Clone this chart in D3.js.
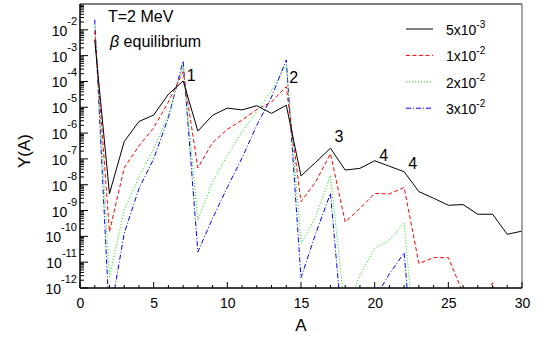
<!DOCTYPE html>
<html><head><meta charset="utf-8">
<script src="https://cdn.jsdelivr.net/npm/d3@7"></script>
<style>body{margin:0;background:#fff}svg{display:block}text{font-family:"Liberation Sans",Arial,sans-serif}</style>
</head><body><svg id="c" width="546" height="339"></svg>
<script>
const massNumbers = d3.range(1, 31);
const yEta5e3 = [4.0e-3,4.5e-9,4.7e-7,2.8e-6,5.0e-6,3.2e-5,1.05e-4,1.2e-6,4.9e-6,9.3e-6,7.9e-6,1.15e-5,5.8e-6,1.2e-5,2.2e-8,7.4e-8,2.6e-7,3.7e-8,4.3e-8,8.5e-8,5.2e-8,3.2e-8,5.4e-9,3.0e-9,1.6e-9,1.7e-9,7.2e-10,7.2e-10,1.2e-10,1.6e-10];
const yEta1e2 = [8.9e-3,1.5e-10,4.5e-8,3.2e-7,1.6e-6,1.6e-5,2.4e-4,4.5e-8,4.3e-7,1.4e-6,3.2e-6,8.3e-6,1.6e-5,6.3e-5,2.2e-9,1.3e-8,1.6e-7,3.6e-10,1.2e-9,4.6e-9,4.4e-9,7.8e-9,8.9e-12,1.5e-11,1.5e-11,6.3e-13,1e-13,1.6e-12,3.2e-14,null];
const yEta2e2 = [1.6e-2,2.7e-12,1e-9,2.0e-8,2.5e-7,5.0e-6,4.4e-4,4.3e-10,1.3e-8,1.4e-7,1.1e-6,7.1e-6,4.5e-5,4.4e-4,5.2e-11,5.8e-10,2.3e-8,1e-13,3.2e-12,3.4e-11,7.1e-11,3.3e-10,1.6e-16,null,null,null,null,null,null,null];
const yEta3e2 = [2.5e-2,6.3e-14,1.3e-10,7.1e-9,1e-7,4.0e-6,6.2e-4,2.5e-11,5.0e-10,7.9e-9,1.1e-7,2.0e-6,2.5e-5,6.8e-4,2.5e-12,1.3e-10,4.6e-9,1.6e-15,3.2e-14,4.0e-13,3.5e-12,2.3e-11,4e-18,null,null,null,null,null,null,null];
const seriesNames = [["5x10","-3"],["1x10","-2"],["2x10","-2"],["3x10","-2"]];
const xTicks = [0,5,10,15,20,25,30];
const yTickExps = [-2,-3,-4,-5,-6,-7,-8,-9,-10,-11,-12];
const peakLabels = [{a:7,t:"1"},{a:14,t:"2"},{a:17,t:"3"},{a:20,t:"4"},{a:22,t:"4"}];

const svg = d3.select("#c");
const L=80,R=522,T=4,B=288;
const x = d3.scaleLinear().domain([0,30]).range([L,R]);
const y = d3.scaleLog().domain([1e-12,1e-1]).range([B,T]);

svg.append("clipPath").attr("id","clip").append("rect").attr("x",L).attr("y",T).attr("width",R-L).attr("height",B-T);

const styles = [
 {c:"#000000",d:null},
 {c:"#ff0000",d:"4,2.5"},
 {c:"#00e000",d:"1,2"},
 {c:"#0000ff",d:"5,2,1,2"}
];
const data = [yEta5e3,yEta1e2,yEta2e2,yEta3e2];
const line = d3.line().defined(d=>d[1]!=null).x(d=>x(d[0])).y(d=>y(d[1]));
const g = svg.append("g").attr("clip-path","url(#clip)");
data.slice().reverse().forEach((arr,ri)=>{
  const i = data.length-1-ri;
  g.append("path").datum(massNumbers.map((a,k)=>[a,arr[k]]))
   .attr("d",line).attr("fill","none").attr("stroke",styles[i].c)
   .attr("stroke-width",1).attr("stroke-dasharray",styles[i].d);
});

// frame
svg.append("line").attr("x1",L).attr("x2",R).attr("y1",T).attr("y2",T).attr("stroke","#555").attr("stroke-width",1.5);
svg.append("line").attr("x1",R).attr("x2",R).attr("y1",T).attr("y2",B).attr("stroke","#888").attr("stroke-width",1.5);

// x axis
const xAxis = d3.axisBottom(x).tickValues(xTicks).tickSize(0).tickPadding(0).tickFormat(d3.format("d"));
const xa = svg.append("g").attr("transform",`translate(0,${B})`).call(xAxis);
xa.select(".domain").remove();
xa.selectAll("text").attr("y",20).attr("dy",null).attr("font-size",14).attr("fill","#000").attr("font-family","Liberation Sans, Arial, sans-serif");
svg.append("g").selectAll("line").data(d3.range(0,31)).join("line")
  .attr("x1",d=>x(d)).attr("x2",d=>x(d)).attr("y1",B).attr("y2",d=>d%5===0?B-6:B-3)
  .attr("stroke","#000").attr("stroke-width",1);
svg.append("line").attr("x1",L).attr("x2",R).attr("y1",B).attr("y2",B).attr("stroke","#000").attr("stroke-width",1.5);

// y axis ticks
const yt = svg.append("g");
const minor=[];
for(let e=-12;e<-1;e++){for(let k=2;k<=9;k++)minor.push(k*Math.pow(10,e));}
yt.selectAll("line.mi").data(minor).join("line").attr("class","mi")
  .attr("x1",L).attr("x2",L+4).attr("y1",d=>y(d)).attr("y2",d=>y(d)).attr("stroke","#000");
yt.selectAll("line.ma").data(yTickExps).join("line").attr("class","ma")
  .attr("x1",L).attr("x2",L+8).attr("y1",d=>y(Math.pow(10,d))).attr("y2",d=>y(Math.pow(10,d))).attr("stroke","#000");
svg.append("line").attr("x1",L).attr("x2",L).attr("y1",T).attr("y2",B).attr("stroke","#000").attr("stroke-width",1.5);
const yl = yt.selectAll("text.yl").data(yTickExps).join("text").attr("class","yl")
  .attr("x",77).attr("y",d=>y(Math.pow(10,d))+6).attr("text-anchor","end").attr("font-size",14);
yl.append("tspan").text("10");
yl.append("tspan").attr("dy",-11).attr("font-size",11).text(d=>String(d));

// axis titles
svg.append("text").attr("x",x(15)).attr("y",331).attr("text-anchor","middle").attr("font-size",17).text("A");
svg.append("text").attr("transform","translate(30,151) rotate(-90)").attr("text-anchor","middle").attr("font-size",17).text("Y(A)");

// annotations
svg.append("text").attr("x",108).attr("y",22).attr("font-size",16).text("T=2 MeV");
const bt = svg.append("text").attr("x",110).attr("y",47).attr("font-size",16);
bt.append("tspan").attr("font-style","italic").text("β");
bt.append("tspan").text(" equilibrium");

svg.selectAll("text.pk").data(peakLabels).join("text").attr("class","pk")
  .attr("x",(d,i)=>x(d.a)+[3.5,3,4,4.5,4][i]).attr("y",(d,i)=>y(yEta5e3[d.a-1])+[0,-22.5,-6,0,-3][i])
  .attr("font-size",16).text(d=>d.t);

// legend
const lg = svg.append("g");
seriesNames.forEach((n,i)=>{
  const ly = 29 + i*26.4;
  lg.append("line").attr("x1",406).attr("x2",433).attr("y1",ly).attr("y2",ly)
    .attr("stroke",styles[i].c).attr("stroke-width",1).attr("stroke-dasharray",styles[i].d);
  const t = lg.append("text").attr("x",446).attr("y",ly+6).attr("font-size",14);
  t.append("tspan").text(n[0]);
  t.append("tspan").attr("dy",-7).attr("font-size",10).text(n[1]);
});
</script></body></html>
